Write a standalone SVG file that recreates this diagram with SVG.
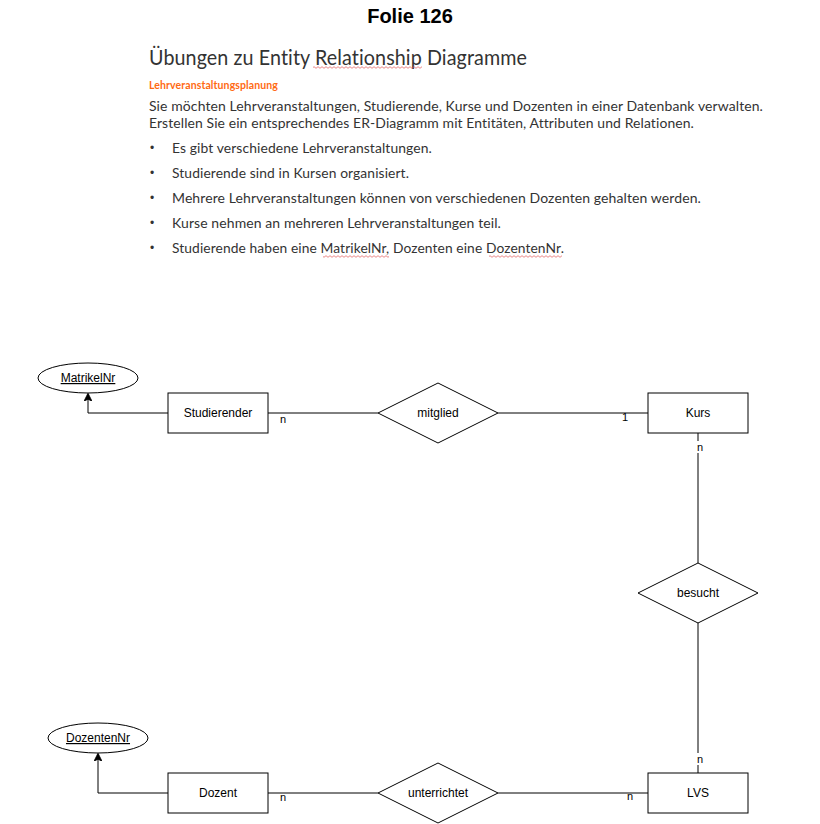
<svg xmlns="http://www.w3.org/2000/svg" width="820" height="824" viewBox="0 0 820 824">
  <style>
    .slide { font-family: Lato, "Open Sans", "Liberation Sans", sans-serif; fill: #333333; font-variant-ligatures: none; font-feature-settings: "liga" 0, "clig" 0, "dlig" 0, "calt" 0; letter-spacing: 0.1px; }
    .body { font-size: 14px; }
    .bullet { font-family: "Liberation Sans", Arial, sans-serif; font-size: 12px; fill: #333333; }
    .er { font-family: "Liberation Sans", Arial, sans-serif; font-size: 12px; fill: #000000; }
    .lbl { font-family: "Liberation Sans", Arial, sans-serif; font-size: 11px; fill: #000000; }
    .shape { fill: #ffffff; stroke: #000000; stroke-width: 1; }
    .edge { fill: none; stroke: #000000; stroke-width: 1; }
    .lblbg { fill: #ffffff; }
  </style>
  <defs>
    <marker id="arrow" viewBox="0 0 10 10" refX="9" refY="5" markerWidth="8" markerHeight="8" markerUnits="userSpaceOnUse" orient="auto">
      <path d="M0,0 L10,5 L0,10 L2.5,5 z" fill="#000000" stroke="#000000" stroke-width="1"/>
    </marker>
    <pattern id="squig" width="4" height="3" patternUnits="userSpaceOnUse">
      <path d="M0,2.3 L2,0.7 L4,2.3" fill="none" stroke="#e05555" stroke-width="0.7"/>
    </pattern>
  </defs>
  <rect width="820" height="824" fill="#ffffff"/>

  <!-- Slide text -->
  <g id="slide-text">
    <text x="410" y="23" text-anchor="middle" font-family="'Liberation Sans', Arial, sans-serif" font-size="20" font-weight="bold" fill="#000000">Folie 126</text>
    <text class="slide" x="149" y="65" font-size="21" textLength="378" lengthAdjust="spacingAndGlyphs">Übungen zu Entity Relationship Diagramme</text>
    <rect x="313" y="66" width="109" height="3" fill="url(#squig)"/>
    <text class="slide" x="149" y="89" font-size="11" font-weight="bold" style="fill:#ff6a13" textLength="129" lengthAdjust="spacingAndGlyphs">Lehrveranstaltungsplanung</text>
    <text class="slide body" x="149" y="111" textLength="614" lengthAdjust="spacingAndGlyphs">Sie möchten Lehrveranstaltungen, Studierende, Kurse und Dozenten in einer Datenbank verwalten.</text>
    <text class="slide body" x="149" y="128" textLength="545" lengthAdjust="spacingAndGlyphs">Erstellen Sie ein entsprechendes ER-Diagramm mit Entitäten, Attributen und Relationen.</text>
    <g class="slide body">
      <text class="bullet" x="150" y="152">•</text>
      <text x="172" y="153" textLength="260" lengthAdjust="spacingAndGlyphs">Es gibt verschiedene Lehrveranstaltungen.</text>
      <text class="bullet" x="150" y="177">•</text>
      <text x="172" y="178" textLength="237" lengthAdjust="spacingAndGlyphs">Studierende sind in Kursen organisiert.</text>
      <text class="bullet" x="150" y="202">•</text>
      <text x="172" y="203" textLength="529" lengthAdjust="spacingAndGlyphs">Mehrere Lehrveranstaltungen können von verschiedenen Dozenten gehalten werden.</text>
      <text class="bullet" x="150" y="227">•</text>
      <text x="172" y="228" textLength="329" lengthAdjust="spacingAndGlyphs">Kurse nehmen an mehreren Lehrveranstaltungen teil.</text>
      <text class="bullet" x="150" y="252">•</text>
      <text x="172" y="253" textLength="392" lengthAdjust="spacingAndGlyphs">Studierende haben eine MatrikelNr, Dozenten eine DozentenNr.</text>
    </g>
    <rect x="323" y="255" width="66" height="3" fill="url(#squig)"/>
    <rect x="489" y="255" width="73" height="3" fill="url(#squig)"/>
  </g>

  <!-- Connectors -->
  <g id="connectors">
    <path class="edge" d="M168,413 L88,413 L88,394" marker-end="url(#arrow)"/>
    <path class="edge" d="M168,793 L98,793 L98,754" marker-end="url(#arrow)"/>
    <path class="edge" d="M268,413 L378,413"/>
    <path class="edge" d="M498,413 L648,413"/>
    <path class="edge" d="M698,433 L698,563"/>
    <path class="edge" d="M698,623 L698,773"/>
    <path class="edge" d="M268,793 L378,793"/>
    <path class="edge" d="M498,793 L648,793"/>
    <!-- cardinality labels -->
    <text class="lbl" x="283" y="423" text-anchor="middle">n</text>
    <rect class="lblbg" x="622" y="414" width="6" height="8"/>
    <text class="lbl" x="625" y="421" text-anchor="middle">1</text>
    <rect class="lblbg" x="694" y="441" width="10" height="12"/>
    <text class="lbl" x="700" y="451" text-anchor="middle">n</text>
    <rect class="lblbg" x="694" y="753" width="10" height="12"/>
    <text class="lbl" x="700" y="763" text-anchor="middle">n</text>
    <rect class="lblbg" x="626" y="794" width="8" height="7"/>
    <text class="lbl" x="630" y="800" text-anchor="middle">n</text>
    <text class="lbl" x="283" y="801" text-anchor="middle">n</text>
  </g>

  <!-- Nodes -->
  <g id="matrikelnr">
    <ellipse class="shape" cx="88" cy="378" rx="50" ry="15"/>
    <text class="er" x="88" y="382" text-anchor="middle" text-decoration="underline">MatrikelNr</text>
  </g>
  <g id="studierender">
    <rect class="shape" x="168" y="393" width="100" height="40"/>
    <text class="er" x="218" y="417" text-anchor="middle">Studierender</text>
  </g>
  <g id="mitglied">
    <polygon class="shape" points="438,383 498,413 438,443 378,413"/>
    <text class="er" x="438" y="417" text-anchor="middle">mitglied</text>
  </g>
  <g id="kurs">
    <rect class="shape" x="648" y="393" width="100" height="40"/>
    <text class="er" x="698" y="417" text-anchor="middle">Kurs</text>
  </g>
  <g id="besucht">
    <polygon class="shape" points="698,563 758,593 698,623 638,593"/>
    <text class="er" x="698" y="597" text-anchor="middle">besucht</text>
  </g>
  <g id="dozentennr">
    <ellipse class="shape" cx="98" cy="738" rx="50" ry="15"/>
    <text class="er" x="98" y="742" text-anchor="middle" text-decoration="underline">DozentenNr</text>
  </g>
  <g id="dozent">
    <rect class="shape" x="168" y="773" width="100" height="40"/>
    <text class="er" x="218" y="797" text-anchor="middle">Dozent</text>
  </g>
  <g id="unterrichtet">
    <polygon class="shape" points="438,763 498,793 438,823 378,793"/>
    <text class="er" x="438" y="797" text-anchor="middle">unterrichtet</text>
  </g>
  <g id="lvs">
    <rect class="shape" x="648" y="773" width="100" height="40"/>
    <text class="er" x="698" y="797" text-anchor="middle">LVS</text>
  </g>
</svg>
